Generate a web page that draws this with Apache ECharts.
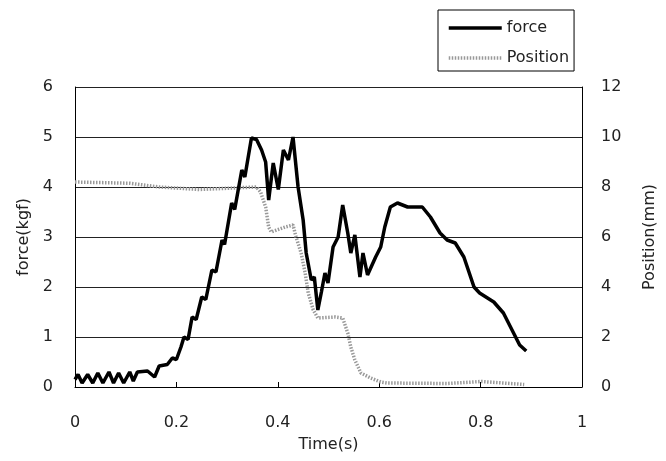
<!DOCTYPE html>
<html>
<head>
<meta charset="utf-8">
<script src="https://cdn.jsdelivr.net/npm/echarts@6/dist/echarts.min.js"></script>
<style>html,body{margin:0;padding:0;background:#fff;}#c{width:666px;height:461px;}</style>
</head>
<body>
<div id="c"></div>
<script>
var forceTime = [0,0.006,0.014,0.025,0.035,0.045,0.055,0.067,0.076,0.086,0.096,0.108,0.115,0.123,0.143,0.157,0.166,0.182,0.192,0.2,0.209,0.215,0.223,0.231,0.239,0.25,0.258,0.27,0.278,0.29,0.295,0.309,0.315,0.329,0.335,0.348,0.358,0.368,0.376,0.382,0.391,0.401,0.411,0.421,0.43,0.44,0.45,0.456,0.466,0.472,0.479,0.486,0.493,0.499,0.509,0.519,0.528,0.538,0.544,0.552,0.562,0.568,0.577,0.593,0.603,0.611,0.622,0.636,0.656,0.685,0.701,0.72,0.734,0.75,0.767,0.787,0.798,0.826,0.845,0.865,0.877,0.89];
var forceVal = [0.15,0.25,0.08,0.25,0.08,0.28,0.08,0.3,0.08,0.28,0.08,0.3,0.12,0.3,0.32,0.2,0.42,0.45,0.58,0.55,0.8,1.0,0.95,1.4,1.35,1.8,1.75,2.34,2.3,2.94,2.85,3.68,3.55,4.34,4.2,4.98,4.95,4.74,4.5,3.74,4.48,3.95,4.74,4.54,5.0,4.0,3.34,2.68,2.14,2.2,1.54,1.9,2.28,2.08,2.8,3.0,3.64,3.08,2.68,3.04,2.2,2.68,2.24,2.6,2.8,3.2,3.6,3.68,3.6,3.6,3.4,3.08,2.94,2.88,2.6,2.0,1.88,1.7,1.48,1.08,0.84,0.72];
var posTime = [0,0.108,0.166,0.245,0.303,0.358,0.366,0.376,0.382,0.387,0.415,0.43,0.436,0.446,0.454,0.46,0.47,0.479,0.513,0.528,0.538,0.544,0.552,0.564,0.583,0.603,0.616,0.734,0.802,0.886];
var posVal = [8.2,8.15,8.0,7.9,7.95,8.0,7.8,7.2,6.4,6.2,6.4,6.48,6.0,5.36,4.56,3.76,3.08,2.76,2.8,2.76,2.16,1.6,1.08,0.56,0.36,0.2,0.16,0.14,0.22,0.1];

var forceData = forceTime.map(function(t,i){return [t, forceVal[i]];});
var posData = posTime.map(function(t,i){return [t, posVal[i]];});

var font = 'DejaVu Sans';
var txt = '#222';
var chart = echarts.init(document.getElementById('c'));
chart.setOption({
  animation: false,
  backgroundColor: '#fff',
  grid: {left: 75, right: 80, top: 87, bottom: 74},
  legend: {
    orient: 'vertical', left: 438, top: 10,
    padding: [10, 5, 5, 9],
    borderColor: '#000', borderWidth: 1,
    itemWidth: 53, itemHeight: 14, itemGap: 14,
    itemStyle: {opacity: 0},
    lineStyle: {width: 3.5},
    textStyle: {fontFamily: font, fontSize: 16, color: txt},
    data: ['force', 'Position']
  },
  xAxis: {
    type: 'value', min: 0, max: 1, interval: 0.2,
    name: 'Time(s)', nameLocation: 'middle', nameGap: 50,
    nameTextStyle: {fontFamily: font, fontSize: 16, color: txt},
    axisLine: {lineStyle: {color: '#000', width: 1}},
    axisTick: {inside: true, length: 5, lineStyle: {color: '#000'}},
    axisLabel: {fontFamily: font, fontSize: 16, color: txt, margin: 28},
    splitLine: {show: false}
  },
  yAxis: [{
    type: 'value', min: 0, max: 6, interval: 1,
    name: 'force(kgf)', nameLocation: 'middle', nameGap: 36,
    nameTextStyle: {fontFamily: font, fontSize: 16, color: txt},
    axisLine: {show: true, lineStyle: {color: '#000', width: 1}},
    axisTick: {show: false},
    axisLabel: {fontFamily: font, fontSize: 16, color: txt, margin: 22},
    splitLine: {show: true, lineStyle: {color: '#222', width: 1}}
  }, {
    type: 'value', min: 0, max: 12, interval: 2, position: 'right',
    name: 'Position(mm)', nameLocation: 'middle', nameGap: 60, nameRotate: 90,
    nameTextStyle: {fontFamily: font, fontSize: 16, color: txt},
    axisLine: {show: true, lineStyle: {color: '#000', width: 1}},
    axisTick: {show: false},
    axisLabel: {fontFamily: font, fontSize: 16, color: txt, margin: 19},
    splitLine: {show: false}
  }],
  series: [{
    name: 'force', type: 'line', yAxisIndex: 0, data: forceData,
    symbol: 'none', showSymbol: false,
    lineStyle: {color: '#000', width: 3.5},
    itemStyle: {color: '#000'}, z: 3
  }, {
    name: 'Position', type: 'line', yAxisIndex: 1, data: posData,
    symbol: 'none', showSymbol: false,
    lineStyle: {color: '#999', width: 3.5, type: [1.5, 1.5]},
    itemStyle: {color: '#999'}, z: 2
  }]
});
</script>
</body>
</html>
